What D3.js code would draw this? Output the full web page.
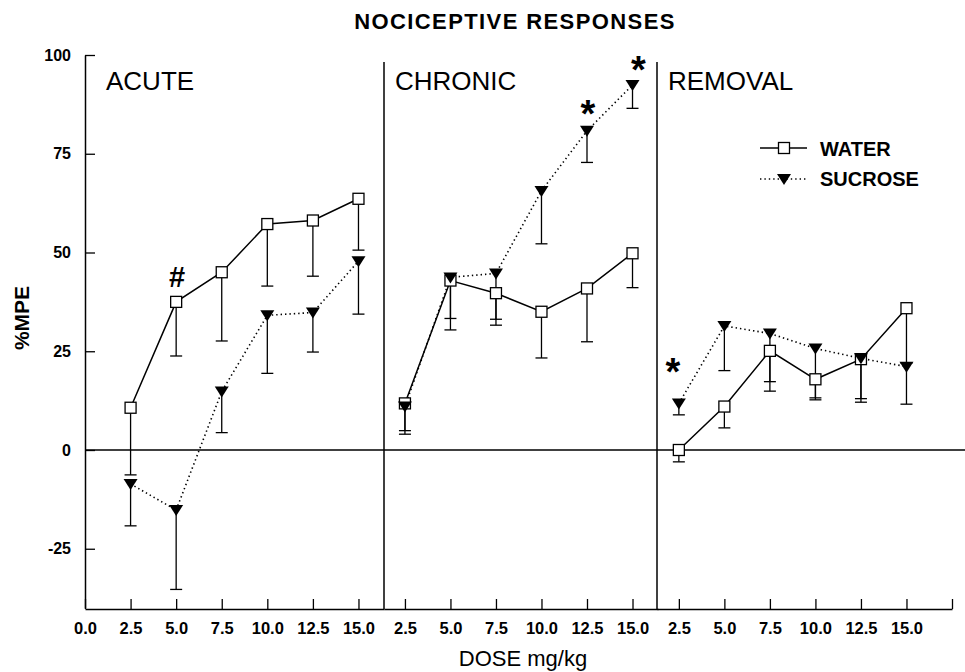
<!DOCTYPE html>
<html>
<head>
<meta charset="utf-8">
<script src="https://cdn.jsdelivr.net/npm/d3@7"></script>
<style>
  html, body { margin: 0; padding: 0; background: #fff; }
  svg { display: block; font-family: "Liberation Sans", Arial, sans-serif; }
</style>
</head>
<body>
<svg id="chart" width="965" height="672"></svg>
<script>
// ---------------- DATA ----------------
const doses = [2.5, 5.0, 7.5, 10.0, 12.5, 15.0];
const panelNames = ["ACUTE", "CHRONIC", "REMOVAL"];
const seriesNames = ["WATER", "SUCROSE"];

// mean %MPE per panel
const waterAcute   = [10.7, 37.5, 45.0, 57.2, 58.1, 63.6];
const sucroseAcute = [-8.6, -15.2, 14.8, 34.1, 34.8, 47.8];
const waterChronic   = [11.8, 42.9, 39.7, 35.0, 40.9, 49.8];
const sucroseChronic = [11.0, 43.7, 44.7, 65.6, 80.8, 92.4];
const waterRemoval   = [0.0, 11.0, 25.1, 17.9, 23.0, 35.9];
const sucroseRemoval = [11.8, 31.4, 29.5, 25.7, 23.2, 21.1];

// lower end of error bars
const waterAcuteLow   = [-6.3, 23.8, 27.6, 41.5, 44.0, 50.6];
const sucroseAcuteLow = [-19.2, -35.3, 4.4, 19.4, 24.8, 34.4];
const waterChronicLow   = [4.9, 30.4, 31.6, 23.3, 27.4, 41.1];
const sucroseChronicLow = [4.0, 33.3, 33.1, 52.2, 72.8, 86.5];
const waterRemovalLow   = [-3.0, 5.6, 14.9, 12.7, 12.1, 22.0];
const sucroseRemovalLow = [8.9, 20.1, 17.3, 13.2, 13.0, 11.6];

const yTicks = [100, 75, 50, 25, 0, -25];
const xTicksFirst = [0, 2.5, 5.0, 7.5, 10.0, 12.5, 15.0];
const xTicksOther = [2.5, 5.0, 7.5, 10.0, 12.5, 15.0];
const xTicksLast = [2.5, 5.0, 7.5, 10.0, 12.5, 15.0, 17.5];

// significance marks: [panelIndex, seriesIndex, doseIndex, symbol]
const marks = [[0, 0, 1, "#"], [1, 1, 4, "*"], [1, 1, 5, "*"], [2, 1, 0, "*"]];

// ---------------- LAYOUT ----------------
const svg = d3.select("#chart");
const FONT = '"Liberation Sans", Arial, sans-serif';
const y = d3.scaleLinear().domain([-40, 100]).range([608, 55]);
const yTop = 62;

const panels = [
  { name: panelNames[0], water: waterAcute, sucrose: sucroseAcute, wl: waterAcuteLow, sl: sucroseAcuteLow,
    x: d3.scaleLinear().domain([0, 16.4]).range([85, 384]), ticks: xTicksFirst },
  { name: panelNames[1], water: waterChronic, sucrose: sucroseChronic, wl: waterChronicLow, sl: sucroseChronicLow,
    x: d3.scaleLinear().domain([1.35, 16.4]).range([384, 658]), ticks: xTicksOther },
  { name: panelNames[2], water: waterRemoval, sucrose: sucroseRemoval, wl: waterRemovalLow, sl: sucroseRemovalLow,
    x: d3.scaleLinear().domain([1.3, 17.5]).range([657, 952]), ticks: xTicksLast }
];

// Title
svg.append("text").attr("x", 515).attr("y", 29).attr("text-anchor", "middle")
  .attr("font-size", 22).attr("font-weight", "bold").attr("letter-spacing", 1.4)
  .text("NOCICEPTIVE RESPONSES");

// Y axis
const yAxis = d3.axisLeft(y).tickValues(yTicks).tickSize(-10).tickSizeOuter(0).tickPadding(14)
  .tickFormat(d => String(d));
const gy = svg.append("g").attr("transform", "translate(85,0)").call(yAxis);
gy.select(".domain").attr("stroke-width", 1.5);
gy.selectAll(".tick line").attr("stroke-width", 1.3);
gy.selectAll(".tick text").attr("font-size", 16).attr("font-weight", "bold").attr("font-family", FONT);

// Y label
svg.append("text").attr("transform", "translate(29,318) rotate(-90)")
  .attr("text-anchor", "middle").attr("font-size", 21).attr("font-weight", "bold")
  .text("%MPE");

// X axes per panel
panels.forEach((p, i) => {
  const ax = d3.axisBottom(p.x).tickValues(p.ticks).tickSize(-10).tickSizeOuter(0).tickPadding(13)
    .tickFormat(d => d === 17.5 ? "" : d3.format(".1f")(d));
  const g = svg.append("g").attr("transform", "translate(0,609)").call(ax);
  g.select(".domain").attr("stroke-width", 1.5);
  g.selectAll(".tick line").attr("stroke-width", 1.3);
  g.selectAll(".tick text").attr("font-size", 16.5).attr("font-weight", "bold").attr("font-family", FONT);
});

// X label
svg.append("text").attr("x", 523).attr("y", 666).attr("text-anchor", "middle")
  .attr("font-size", 22).text("DOSE mg/kg");

// Panel dividers
[panels[1].x.range()[0], panels[2].x.range()[0]].forEach(px => {
  svg.append("line").attr("x1", px).attr("x2", px).attr("y1", yTop).attr("y2", 609)
    .attr("stroke", "#000").attr("stroke-width", 1.5);
});

// Zero line
svg.append("line").attr("x1", 85).attr("x2", 965).attr("y1", y(0)).attr("y2", y(0))
  .attr("stroke", "#000").attr("stroke-width", 1.5);

// Markers
const triPath = "M-7,-5L7,-5L0,6Z";
function drawSquare(g, cx, cy) {
  g.append("rect").attr("x", cx - 5.5).attr("y", cy - 5.5).attr("width", 11).attr("height", 11)
    .attr("fill", "#fff").attr("stroke", "#000").attr("stroke-width", 1.3);
}
function drawTri(g, cx, cy) {
  g.append("path").attr("d", triPath).attr("transform", `translate(${cx},${cy})`).attr("fill", "#000");
}

panels.forEach((p, pi) => {
  const g = svg.append("g");
  // panel label
  g.append("text").attr("x", p.x.range()[0] + (pi === 0 ? 21 : 11)).attr("y", 90)
    .attr("font-size", 26).text(p.name);

  const line = d3.line().x((d, i) => p.x(doses[i])).y(d => y(d));
  // error bars
  [[p.water, p.wl], [p.sucrose, p.sl]].forEach(([vals, lows]) => {
    vals.forEach((v, i) => {
      const cx = p.x(doses[i]);
      g.append("line").attr("x1", cx).attr("x2", cx).attr("y1", y(v)).attr("y2", y(lows[i]))
        .attr("stroke", "#000").attr("stroke-width", 1.3);
      g.append("line").attr("x1", cx - 6).attr("x2", cx + 6).attr("y1", y(lows[i])).attr("y2", y(lows[i]))
        .attr("stroke", "#000").attr("stroke-width", 1.3);
    });
  });
  // lines
  g.append("path").attr("d", line(p.water)).attr("fill", "none").attr("stroke", "#000").attr("stroke-width", 1.5);
  g.append("path").attr("d", line(p.sucrose)).attr("fill", "none").attr("stroke", "#000")
    .attr("stroke-width", 1.6).attr("stroke-dasharray", "1.4,3");
  // markers
  p.water.forEach((v, i) => drawSquare(g, p.x(doses[i]), y(v)));
  p.sucrose.forEach((v, i) => drawTri(g, p.x(doses[i]), y(v)));
});

// Significance marks
marks.forEach(([pi, si, di, sym]) => {
  const p = panels[pi];
  const v = (si === 0 ? p.water : p.sucrose)[di];
  const cx = p.x(doses[di]);
  const cy = y(v);
  if (sym === "#") {
    svg.append("text").attr("x", cx + 1).attr("y", cy - 15).attr("text-anchor", "middle")
      .attr("font-size", 29).attr("font-weight", "bold").text(sym);
  } else {
    const off = pi === 2 ? [-6, -40] : (di === 5 ? [6, -24] : [1, -26]);
    svg.append("text").attr("x", cx + off[0]).attr("y", cy + off[1] + 22).attr("text-anchor", "middle")
      .attr("font-size", 38).attr("font-weight", "bold").text(sym);
  }
});

// Legend
const lg = svg.append("g");
lg.append("line").attr("x1", 760).attr("x2", 807).attr("y1", 148).attr("y2", 148)
  .attr("stroke", "#000").attr("stroke-width", 1.5);
drawSquare(lg, 784, 148);
lg.append("text").attr("x", 820).attr("y", 156).attr("font-size", 20).attr("font-weight", "bold").text(seriesNames[0]);
lg.append("line").attr("x1", 760).attr("x2", 806).attr("y1", 179).attr("y2", 179)
  .attr("stroke", "#000").attr("stroke-width", 1.6).attr("stroke-dasharray", "1.4,3");
drawTri(lg, 784, 179);
lg.append("text").attr("x", 820).attr("y", 186).attr("font-size", 20).attr("font-weight", "bold").text(seriesNames[1]);
</script>
</body>
</html>
